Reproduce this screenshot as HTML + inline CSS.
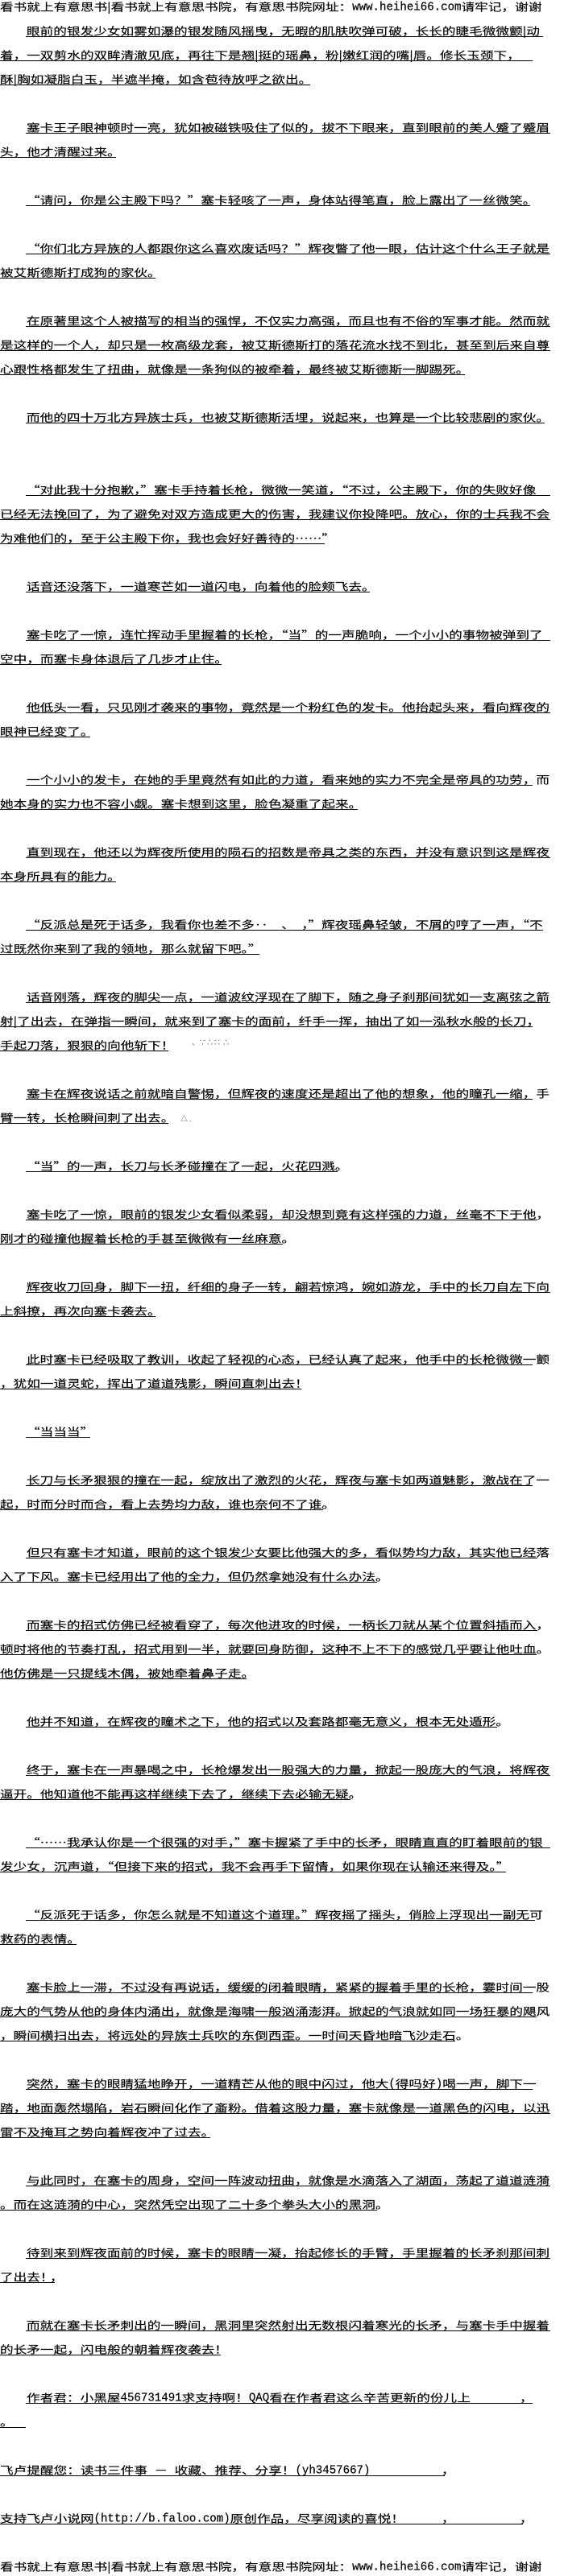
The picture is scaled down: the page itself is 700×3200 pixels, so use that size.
<!DOCTYPE html>
<html lang="zh-CN"><head><meta charset="utf-8"><style>
html,body{margin:0;padding:0;background:#fff}
#w{position:relative;width:700px;height:3200px;overflow:hidden;background:#fff;color:#000;font-family:"Noto Sans CJK SC","WenQuanYi Zen Hei",sans-serif;font-size:16.65px}
p{position:absolute;left:0;margin:0;width:700px;height:30px}
b{position:absolute;left:0;top:.2px;font-weight:400;line-height:20px;white-space:pre;transform:scaleY(.78);transform-origin:0 0;-webkit-text-stroke:.2px #000}
b.n{left:33px}
i{position:absolute;left:0;top:15px;height:1px;background:#000}
i.n{left:32px}
span{display:inline-block;font-family:"Liberation Mono",monospace;font-size:14.1px;transform:scaleY(1.3);transform-origin:0 80%}
em{position:absolute;font-style:normal;font-size:9px;line-height:10px;white-space:pre;color:#555}
</style></head><body><div id="w">
<p style="top:0"><b>看书就上有意思书|看书就上有意思书院，有意思书院网址：<span>www.heihei66.com</span>请牢记，谢谢</b></p>
<p style="top:30px"><i class=n style="width:642px"></i><b class=n>眼前的银发少女如雾如瀑的银发随风摇曳，无暇的肌肤吹弹可破，长长的睫毛微微颤|动</b></p>
<p style="top:60px"><i style="width:661px"></i><b>着，一双剪水的双眸清澈见底，再往下是翘|挺的瑶鼻，粉|嫩红润的嘴|唇。修长玉颈下，</b></p>
<p style="top:90px"><i style="width:385px"></i><b>酥|胸如凝脂白玉，半遮半掩，如含苞待放呼之欲出。</b></p>
<p style="top:150px"><i class=n style="width:651px"></i><b class=n>塞卡王子眼神顿时一亮，犹如被磁铁吸住了似的，拔不下眼来，直到眼前的美人蹙了蹙眉</b></p>
<p style="top:180px"><i style="width:144px"></i><b>头，他才清醒过来。</b></p>
<p style="top:240px"><i class=n style="width:626px"></i><b class=n>“请问，你是公主殿下吗？”塞卡轻咳了一声，身体站得笔直，脸上露出了一丝微笑。</b></p>
<p style="top:300px"><i class=n style="width:651px"></i><b class=n>“你们北方异族的人都跟你这么喜欢废话吗？”辉夜瞥了他一眼，估计这个什么王子就是</b></p>
<p style="top:330px"><i style="width:193px"></i><b>被艾斯德斯打成狗的家伙。</b></p>
<p style="top:390px"><i class=n style="width:651px"></i><b class=n>在原著里这个人被描写的相当的强悍，不仅实力高强，而且也有不俗的军事才能。然而就</b></p>
<p style="top:420px"><i style="width:683px"></i><b>是这样的一个人，却只是一枚高级龙套，被艾斯德斯打的落花流水找不到北，甚至到后来自尊</b></p>
<p style="top:450px"><i style="width:577px"></i><b>心跟性格都发生了扭曲，就像是一条狗似的被牵着，最终被艾斯德斯一脚踢死。</b></p>
<p style="top:510px"><i class=n style="width:644px"></i><b class=n>而他的四十万北方异族士兵，也被艾斯德斯活埋，说起来，也算是一个比较悲剧的家伙。</b></p>
<p style="top:600px"><i class=n style="width:651px"></i><b class=n>“对此我十分抱歉，”塞卡手持着长枪，微微一笑道，“不过，公主殿下，你的失败好像</b></p>
<p style="top:630px"><i style="width:683px"></i><b>已经无法挽回了，为了避免对双方造成更大的伤害，我建议你投降吧。放心，你的士兵我不会</b></p>
<p style="top:660px"><i style="width:403px"></i><b>为难他们的，至于公主殿下你，我也会好好善待的……”</b></p>
<p style="top:720px"><i class=n style="width:427px"></i><b class=n>话音还没落下，一道寒芒如一道闪电，向着他的脸颊飞去。</b></p>
<p style="top:780px"><i class=n style="width:651px"></i><b class=n>塞卡吃了一惊，连忙挥动手里握着的长枪，“当”的一声脆响，一个小小的事物被弹到了</b></p>
<p style="top:810px"><i style="width:275px"></i><b>空中，而塞卡身体退后了几步才止住。</b></p>
<p style="top:870px"><i class=n style="width:651px"></i><b class=n>他低头一看，只见刚才袭来的事物，竟然是一个粉红色的发卡。他抬起头来，看向辉夜的</b></p>
<p style="top:900px"><i style="width:112px"></i><b>眼神已经变了。</b></p>
<p style="top:960px"><i class=n style="width:629px"></i><b class=n>一个小小的发卡，在她的手里竟然有如此的力道，看来她的实力不完全是帝具的功劳，而</b></p>
<p style="top:990px"><i style="width:444px"></i><b>她本身的实力也不容小觑。塞卡想到这里，脸色凝重了起来。</b></p>
<p style="top:1050px"><i class=n style="width:651px"></i><b class=n>直到现在，他还以为辉夜所使用的陨石的招数是帝具之类的东西，并没有意识到这是辉夜</b></p>
<p style="top:1080px"><i style="width:144px"></i><b>本身所具有的能力。</b></p>
<p style="top:1140px"><i class=n style="width:642px"></i><b class=n>“反派总是死于话多，我看你也差不多‥　、　，”辉夜瑶鼻轻皱，不屑的哼了一声，“不</b></p>
<p style="top:1170px"><i style="width:322px"></i><b>过既然你来到了我的领地，那么就留下吧。”</b></p>
<p style="top:1230px"><i class=n style="width:651px"></i><b class=n>话音刚落，辉夜的脚尖一点，一道波纹浮现在了脚下，随之身子刹那间犹如一支离弦之箭</b></p>
<p style="top:1260px"><i style="width:661px"></i><b>射|了出去，在弹指一瞬间，就来到了塞卡的面前，纤手一挥，抽出了如一泓秋水般的长刀，</b></p>
<p style="top:1290px"><i style="width:209px"></i><b>手起刀落，狠狠的向他斩下！</b><em style="left:238px;top:0">、∵∴∷ ∴</em></p>
<p style="top:1350px"><i class=n style="width:629px"></i><b class=n>塞卡在辉夜说话之前就暗自警惕，但辉夜的速度还是超出了他的想象，他的瞳孔一缩，手</b></p>
<p style="top:1380px"><i style="width:209px"></i><b>臂一转，长枪瞬间刺了出去。</b><em style="left:224px;top:5px">△ .</em></p>
<p style="top:1440px"><i class=n style="width:387px"></i><b class=n>“当”的一声，长刀与长矛碰撞在了一起，火花四溅。</b></p>
<p style="top:1500px"><i class=n style="width:635px"></i><b class=n>塞卡吃了一惊，眼前的银发少女看似柔弱，却没想到竟有这样强的力道，丝毫不下于他，</b></p>
<p style="top:1530px"><i style="width:351px"></i><b>刚才的碰撞他握着长枪的手甚至微微有一丝麻意。</b></p>
<p style="top:1590px"><i class=n style="width:651px"></i><b class=n>辉夜收刀回身，脚下一扭，纤细的身子一转，翩若惊鸿，婉如游龙，手中的长刀自左下向</b></p>
<p style="top:1620px"><i style="width:193px"></i><b>上斜撩，再次向塞卡袭去。</b></p>
<p style="top:1680px"><i class=n style="width:629px"></i><b class=n>此时塞卡已经吸取了教训，收起了轻视的心态，已经认真了起来，他手中的长枪微微一颤</b></p>
<p style="top:1710px"><i style="width:374px"></i><b>，犹如一道灵蛇，挥出了道道残影，瞬间直刺出去！</b></p>
<p style="top:1770px"><i class=n style="width:80px"></i><b class=n>“当当当”</b></p>
<p style="top:1830px"><i class=n style="width:629px"></i><b class=n>长刀与长矛狠狠的撞在一起，绽放出了激烈的火花，辉夜与塞卡如两道魅影，激战在了一</b></p>
<p style="top:1860px"><i style="width:401px"></i><b>起，时而分时而合，看上去势均力敌，谁也奈何不了谁。</b></p>
<p style="top:1920px"><i class=n style="width:635px"></i><b class=n>但只有塞卡才知道，眼前的这个银发少女要比他强大的多，看似势均力敌，其实他已经落</b></p>
<p style="top:1950px"><i style="width:468px"></i><b>入了下风。塞卡已经用出了他的全力，但仍然拿她没有什么办法。</b></p>
<p style="top:2010px"><i class=n style="width:635px"></i><b class=n>而塞卡的招式仿佛已经被看穿了，每次他进攻的时候，一柄长刀就从某个位置斜插而入，</b></p>
<p style="top:2040px"><i style="width:666px"></i><b>顿时将他的节奏打乱，招式用到一半，就要回身防御，这种不上不下的感觉几乎要让他吐血。</b></p>
<p style="top:2070px"><i style="width:306px"></i><b>他仿佛是一只提线木偶，被她牵着鼻子走。</b></p>
<p style="top:2130px"><i class=n style="width:585px"></i><b class=n>他并不知道，在辉夜的瞳术之下，他的招式以及套路都毫无意义，根本无处遁形。</b></p>
<p style="top:2190px"><i class=n style="width:651px"></i><b class=n>终于，塞卡在一声暴喝之中，长枪爆发出一股强大的力量，掀起一股庞大的气浪，将辉夜</b></p>
<p style="top:2220px"><i style="width:435px"></i><b>逼开。他知道他不能再这样继续下去了，继续下去必输无疑。</b></p>
<p style="top:2280px"><i class=n style="width:651px"></i><b class=n>“……我承认你是一个很强的对手，”塞卡握紧了手中的长矛，眼睛直直的盯着眼前的银</b></p>
<p style="top:2310px"><i style="width:628px"></i><b>发少女，沉声道，“但接下来的招式，我不会再手下留情，如果你现在认输还来得及。”</b></p>
<p style="top:2370px"><i class=n style="width:632px"></i><b class=n>“反派死于话多，你怎么就是不知道这个道理。”辉夜摇了摇头，俏脸上浮现出一副无可</b></p>
<p style="top:2400px"><i style="width:95px"></i><b>救药的表情。</b></p>
<p style="top:2460px"><i class=n style="width:629px"></i><b class=n>塞卡脸上一滞，不过没有再说话，缓缓的闭着眼睛，紧紧的握着手里的长枪，霎时间一股</b></p>
<p style="top:2490px"><i style="width:666px"></i><b>庞大的气势从他的身体内涌出，就像是海啸一般汹涌澎湃。掀起的气浪就如同一场狂暴的飓风</b></p>
<p style="top:2520px"><i style="width:565px"></i><b>，瞬间横扫出去，将远处的异族士兵吹的东倒西歪。一时间天昏地暗飞沙走石。</b></p>
<p style="top:2580px"><i class=n style="width:629px"></i><b class=n>突然，塞卡的眼睛猛地睁开，一道精芒从他的眼中闪过，他大<span>(</span>得吗好<span>)</span>喝一声，脚下一</b></p>
<p style="top:2610px"><i style="width:683px"></i><b>踏，地面轰然塌陷，岩石瞬间化作了齑粉。借着这股力量，塞卡就像是一道黑色的闪电，以迅</b></p>
<p style="top:2640px"><i style="width:261px"></i><b>雷不及掩耳之势向着辉夜冲了过去。</b></p>
<p style="top:2700px"><i class=n style="width:651px"></i><b class=n>与此同时，在塞卡的周身，空间一阵波动扭曲，就像是水滴落入了湖面，荡起了道道涟漪</b></p>
<p style="top:2730px"><i style="width:468px"></i><b>。而在这涟漪的中心，突然凭空出现了二十多个拳头大小的黑洞。</b></p>
<p style="top:2790px"><i class=n style="width:651px"></i><b class=n>待到来到辉夜面前的时候，塞卡的眼睛一凝，抬起修长的手臂，手里握着的长矛刹那间刺</b></p>
<p style="top:2820px"><i style="width:68px"></i><b>了出去！</b><b style="left:62px">，</b></p>
<p style="top:2880px"><i class=n style="width:651px"></i><b class=n>而就在塞卡长矛刺出的一瞬间，黑洞里突然射出无数根闪着寒光的长矛，与塞卡手中握着</b></p>
<p style="top:2910px"><i style="width:274px"></i><b>的长矛一起，闪电般的朝着辉夜袭去！</b></p>
<p style="top:2970px"><i class=n style="width:629px"></i><b class=n>作者君：小黑屋<span>456731491</span>求支持啊！<span>QAQ</span>看在作者君这么辛苦更新的份儿上</b><b style="left:645px">，</b></p>
<p style="top:3000px"><i style="width:32px"></i><b>。</b></p>
<p style="top:3060px"><i style="width:552px"></i><b>飞卢提醒您：读书三件事<span> </span>－<span> </span>收藏、推荐、分享！<span>(yh3457667)</span></b><b style="left:548px">，</b></p>
<p style="top:3120px"><i style="width:649px"></i><b>支持飞卢小说网<span>(http://b.faloo.com)</span>原创作品，尽享阅读的喜悦！</b><b style="left:548px">，</b><b style="left:645px">，</b></p>
<p style="top:3180px"><b>看书就上有意思书|看书就上有意思书院，有意思书院网址：<span>www.heihei66.com</span>请牢记，谢谢</b></p>
</div></body></html>
